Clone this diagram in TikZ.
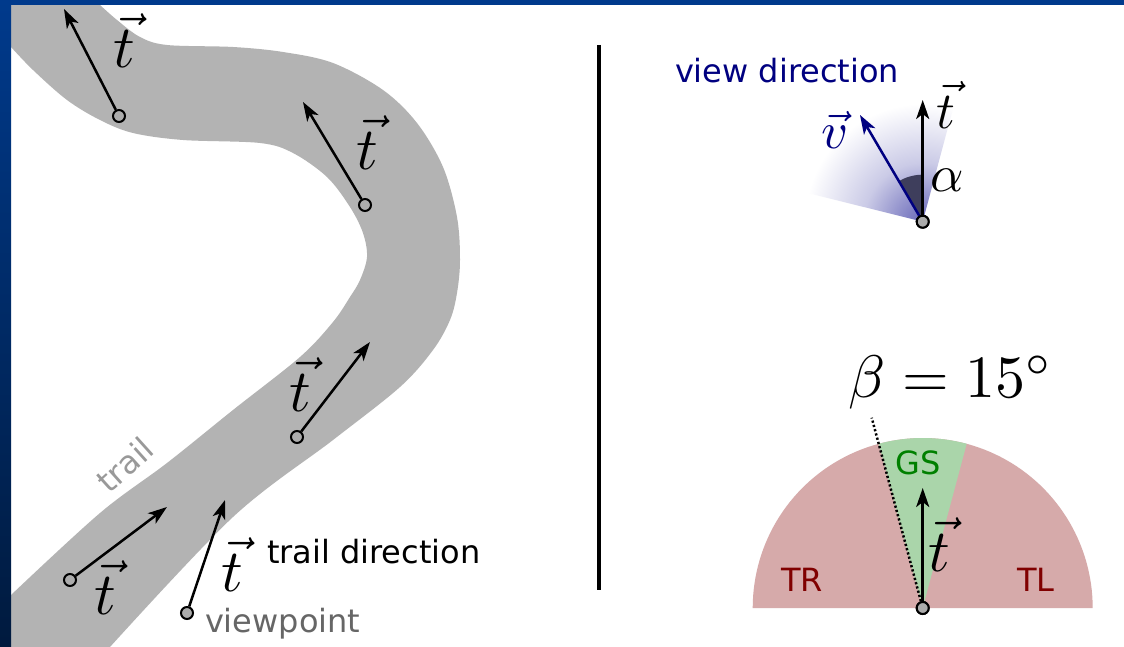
\documentclass[tikz,border=0pt]{standalone}
\usepackage{fontspec}
\setsansfont{DejaVu Sans}
\usetikzlibrary{arrows.meta}
\definecolor{frameblue}{RGB}{0,58,140}
\definecolor{framedark}{RGB}{0,26,62}
\definecolor{trailgray}{RGB}{179,179,179}
\definecolor{navy}{RGB}{0,0,128}
\definecolor{pinkred}{RGB}{214,170,170}
\definecolor{gsgreen}{RGB}{170,213,170}
\definecolor{darkred}{RGB}{128,0,0}
\definecolor{darkgreen}{RGB}{0,128,0}
\definecolor{fanblue}{RGB}{105,105,185}
\definecolor{alphadark}{RGB}{62,62,92}
\definecolor{dotfill}{RGB}{172,172,172}
\pgfdeclareradialshading{fanshade}{\pgfpointorigin}{color(0bp)=(fanblue); color(6bp)=(fanblue!70!white); color(12.5bp)=(fanblue!35!white); color(25bp)=(white); color(50bp)=(white)}
\newcommand\sanslab{\fontsize{32}{38}\selectfont\sffamily}
\tikzset{
  dotnode/.style={circle, draw, line width=2pt, fill=dotfill, minimum size=12pt, inner sep=0pt},
  tvec/.style={line width=2.5pt, -{Stealth[length=19pt, width=13pt, inset=5pt]}},
  lab/.style={inner sep=0pt, outer sep=0pt},
  mbig/.style={lab, scale=6},
  mmid/.style={lab, scale=5.2},
}
\begin{document}
\begin{tikzpicture}[x=1pt, y=-1pt]
\useasboundingbox (0,0) rectangle (1124,647);
\fill[white] (0,0) rectangle (1124,647);
% trail band
\fill[trailgray] plot[smooth, tension=0.55] coordinates {(100,5) (117,20) (140,37) (167,45) (233,47) (283,52) (333,63) (383,90) (417,123) (443,167) (457,217) (460,260) (457,293) (450,320) (433,350) (400,387) (333,440) (233,517) (110,647)}
  -- (11,647) -- (11,595)
  -- plot[smooth, tension=0.55] coordinates {(11,595) (100,513) (167,463) (233,410) (300,357) (333,322) (350,297) (360,280) (367,257) (363,233) (350,207) (327,177) (293,153) (260,143) (183,140) (133,133) (100,120) (67,100) (33,70) (11,47)}
  -- (11,5) -- cycle;
\node[lab, rotate=42, text=gray!80, font=\sanslab] (trail) at (125,465) {trail};
% trail direction vectors
\node[dotnode] (o1) at (119,116) {};
\coordinate (h1) at (64,9);
\node[dotnode] (o2) at (365,205) {};
\coordinate (h2) at (303,102);
\node[dotnode] (o3) at (297,437) {};
\coordinate (h3) at (370,342);
\node[dotnode] (o4) at (70,580) {};
\coordinate (h4) at (167,507);
\node[dotnode] (o5) at (187,613) {};
\coordinate (h5) at (225,500);
\draw[tvec] (o1) -- (h1);
\draw[tvec] (o2) -- (h2);
\draw[tvec] (o3) -- (h3);
\draw[tvec] (o4) -- (h4);
\draw[tvec] (o5) -- (h5);
\node[mbig] (lt1) at (124,41) {$\vec{t}$};
\node[mbig] (lt2) at (367,143) {$\vec{t}$};
\node[mbig] (lt3) at (300,385) {$\vec{t}$};
\node[mbig] (lt4) at (105,588) {$\vec{t}$};
\node[mbig] (lt5) at (232,565) {$\vec{t}$};
\node[lab, anchor=base west, font=\sanslab] (tdir) at (267,563) {trail direction};
\node[lab, anchor=base west, font=\sanslab, text=black!60] (vp) at (205,632) {viewpoint};
% divider
\draw[line width=4pt] (599,45) -- (599,590);
% view direction diagram
\begin{scope}[shift={(922.7,221.7)}]
  \begin{scope}
    \clip (0pt,0pt) -- plot[domain=75:166, samples=40] (\x:118pt) -- cycle;
    \shade[shading=fanshade] (0pt,0pt) circle[radius=118pt];
  \end{scope}
  \fill[alphadark] (0pt,0pt) -- plot[domain=90:120, samples=16] (\x:47pt) -- cycle;
\end{scope}
\node[dotnode] (ov) at (922.7,221.7) {};
\coordinate (ht) at (922.7,100);
\coordinate (hv) at (860,115);
\draw[tvec] (ov) -- (ht);
\draw[tvec, navy] (ov) -- (hv);
\node[dotnode] at (922.7,221.7) {};
\node[mmid] (lt6) at (946,105) {$\vec{t}$};
\node[mmid] (la) at (947,180) {$\alpha$};
\node[mmid, text=navy] (lv) at (835,130) {$\vec{v}$};
\node[lab, anchor=base west, font=\sanslab, text=navy] (vdir) at (675,83) {view direction};
% sector diagram
\begin{scope}[shift={(922.7,608)}]
  \fill[pinkred] (0pt,0pt) -- plot[domain=0:180, samples=90] (\x:170pt) -- cycle;
  \fill[gsgreen] (0pt,0pt) -- plot[domain=75:105, samples=20] (\x:170pt) -- cycle;
  \coordinate (dend) at (105:197pt);
\end{scope}
\node[dotnode] (os) at (922.7,608) {};
\coordinate (hs) at (922.7,488);
\draw[line width=2.5pt, dash pattern=on 2.2pt off 2.2pt] (os) -- (dend);
\draw[tvec] (os) -- (hs);
\node[dotnode] at (922.7,608) {};
\node[mbig] (lt7) at (939,545) {$\vec{t}$};
\node[lab, font=\sanslab, text=darkgreen] (gs) at (918,463) {GS};
\node[lab, font=\sanslab, text=darkred] (tr) at (802,580) {TR};
\node[lab, font=\sanslab, text=darkred] (tl) at (1036,580) {TL};
\node[mbig, anchor=base] (beta) at (951,397) {$\beta = 15^\circ$};
% frame
\fill[frameblue] (0,0) rectangle (1124,5);
\shade[top color=frameblue, bottom color=framedark] (0,0) rectangle (11,647);
\end{tikzpicture}
\end{document}
